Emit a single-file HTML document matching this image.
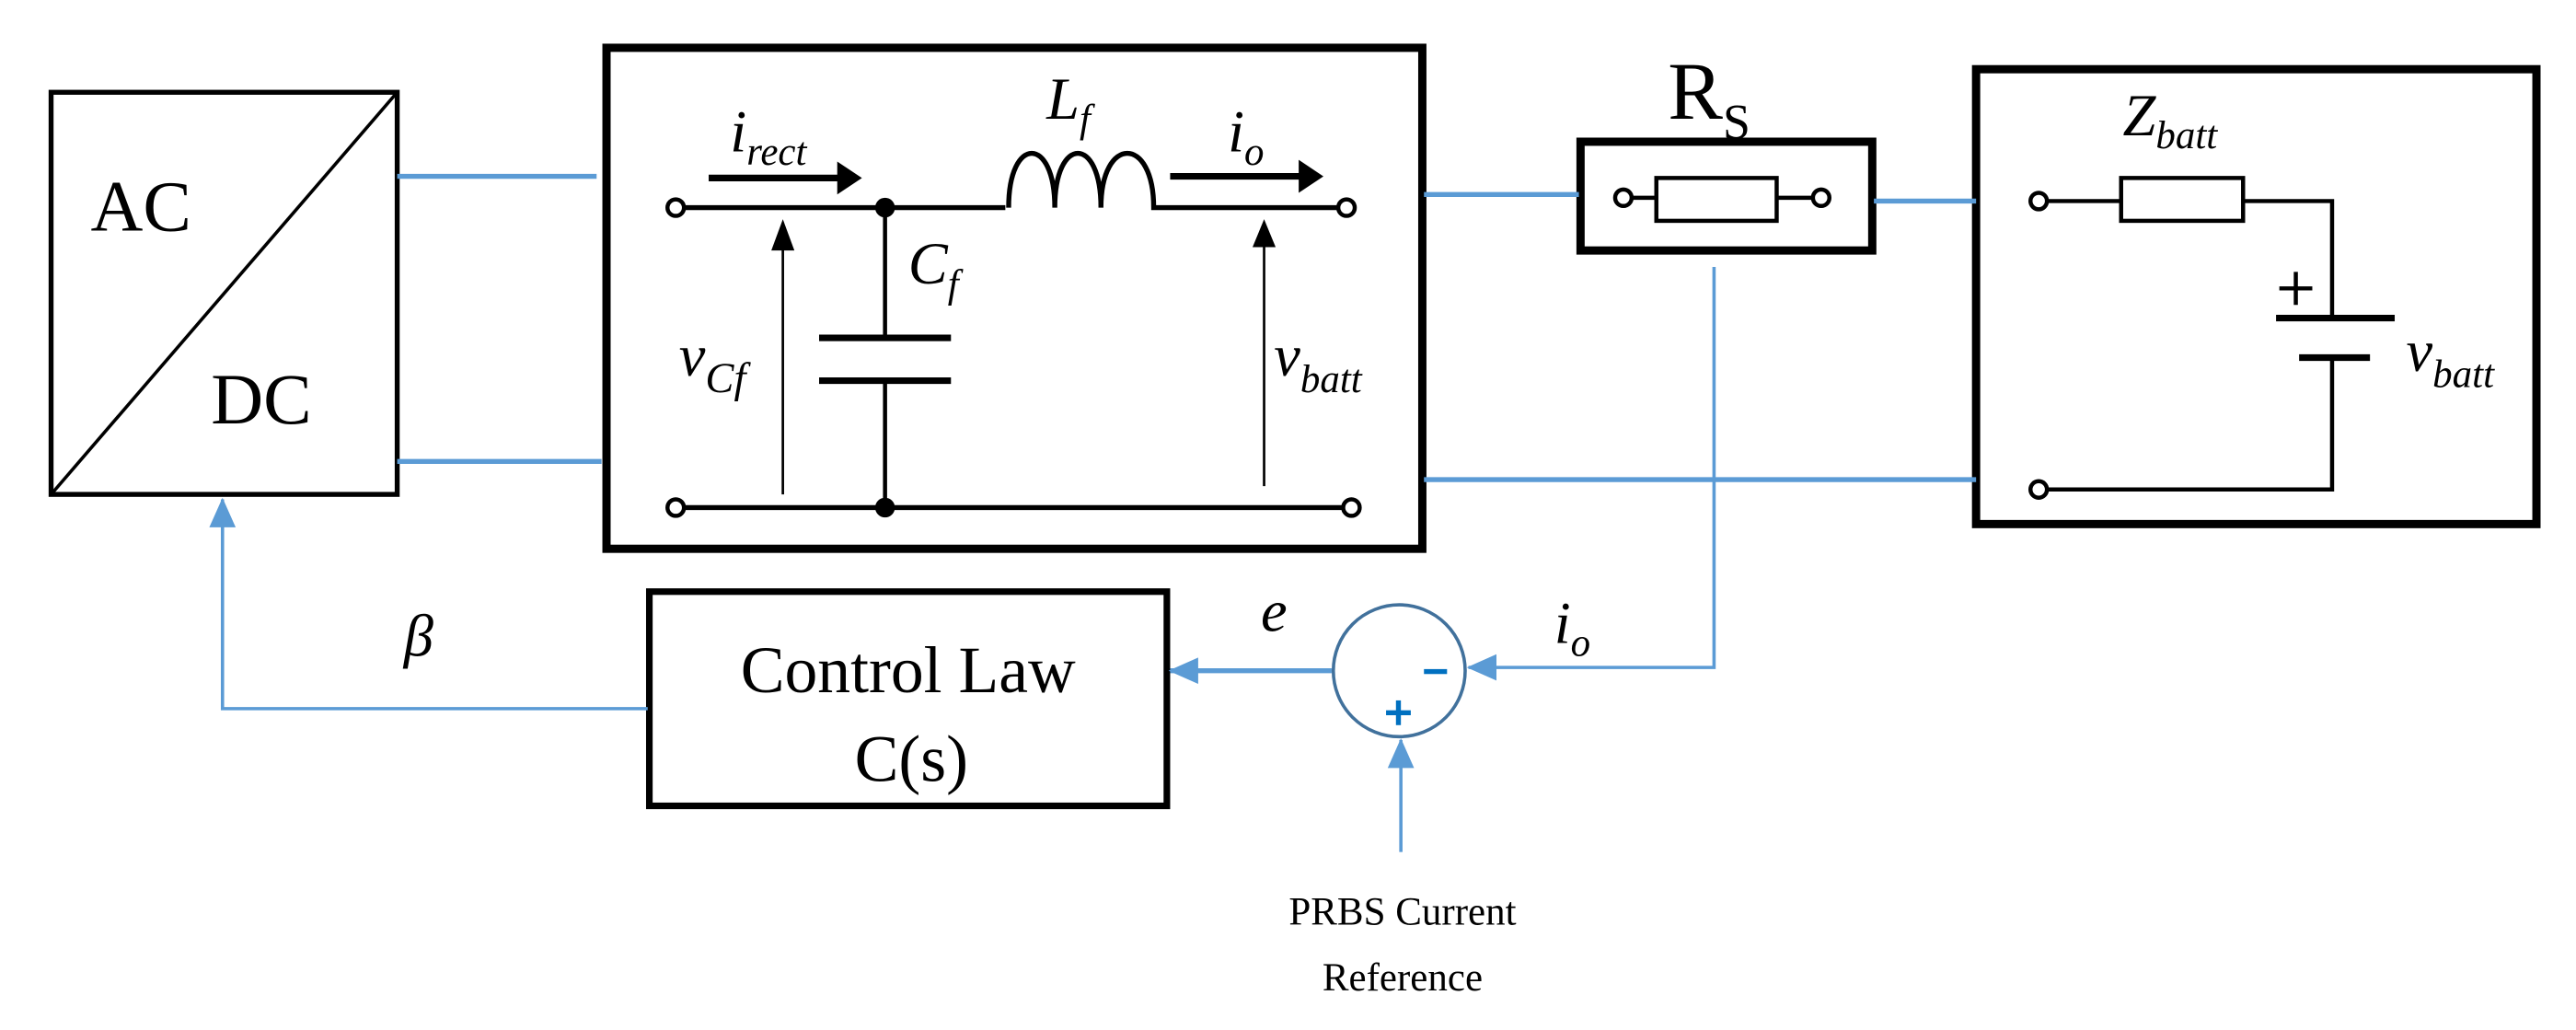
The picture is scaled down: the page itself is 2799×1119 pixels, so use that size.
<!DOCTYPE html>
<html><head><meta charset="utf-8"><style>html,body{margin:0;padding:0;background:#fff}svg{display:block}</style></head>
<body>
<svg width="2799" height="1119" viewBox="0 0 1563 625" preserveAspectRatio="none" xmlns="http://www.w3.org/2000/svg" font-family="'Liberation Serif', serif">
<defs>
<marker id="ba" markerWidth="18" markerHeight="18" refX="17" refY="9" orient="auto" markerUnits="userSpaceOnUse" viewBox="0 0 18 18"><path d="M0,1 L18,9 L0,17z" fill="#5b9bd5"/></marker>
</defs>
<g fill="none" stroke="#000">
<rect x="31" y="56" width="210" height="244" stroke-width="3"/>
<line x1="31" y1="300" x2="241" y2="56" stroke-width="2"/>
<rect x="368" y="29" width="495" height="304" stroke-width="5"/>
<path d="M415,126 H610" stroke-width="3"/>
<path d="M612,126 C612,82 640,82 640,126 C640,82 668,82 668,126 C668,82 700,82 700,126 H812" stroke-width="3"/>
<path d="M415,308 H815" stroke-width="3"/>
<circle cx="410" cy="126" r="5" stroke-width="2.5" fill="#fff"/>
<circle cx="817" cy="126" r="5" stroke-width="2.5" fill="#fff"/>
<circle cx="410" cy="308" r="5" stroke-width="2.5" fill="#fff"/>
<circle cx="820" cy="308" r="5" stroke-width="2.5" fill="#fff"/>
<path d="M537,126 V205 M537,231 V308" stroke-width="2.5"/>
<path d="M497,205 H577 M497,231 H577" stroke-width="4"/>
<path d="M475,300 V145 M767,295 V145" stroke-width="1.5"/>
<path d="M430,108 H510 M710,107 H790" stroke-width="4"/>
<rect x="959" y="86" width="177" height="66" stroke-width="5"/>
<path d="M990,120 H1005 M1078,120 H1100" stroke-width="2.5"/>
<rect x="1005" y="108" width="73" height="26" stroke-width="2.5"/>
<circle cx="985" cy="120" r="5" stroke-width="2.5" fill="#fff"/>
<circle cx="1105" cy="120" r="5" stroke-width="2.5" fill="#fff"/>
<rect x="1199" y="42" width="340" height="276" stroke-width="5"/>
<path d="M1242,122 H1287 M1361,122 H1415 V193 M1415,217 V297 H1242" stroke-width="2.5"/>
<rect x="1287" y="108" width="74" height="26" stroke-width="2.5"/>
<path d="M1381,193 H1453" stroke-width="4"/>
<path d="M1395,217 H1438" stroke-width="4"/>
<path d="M1393,165 V185 M1383,175 H1403" stroke-width="2.5"/>
<circle cx="1237" cy="122" r="5" stroke-width="2.5" fill="#fff"/>
<circle cx="1237" cy="297" r="5" stroke-width="2.5" fill="#fff"/>
<rect x="394" y="359" width="314" height="130" stroke-width="4"/>
</g>
<g fill="#000">
<circle cx="537" cy="126" r="6"/>
<circle cx="537" cy="308" r="6"/>
<path d="M508,98 L523,108 L508,118z"/>
<path d="M788,97 L803,107 L788,117z"/>
<path d="M468,152 L475,133 L482,152z"/>
<path d="M760,150 L767,133 L774,150z"/>
</g>
<g stroke="#5b9bd5" stroke-width="3" fill="none">
<path d="M241,107 H362 M241,280 H365 M864,118 H958 M1137,122 H1199 M864,291 H1199"/>
<path d="M1040,162 V405 H891" stroke-width="2" marker-end="url(#ba)"/>
<path d="M808,407 H710" marker-end="url(#ba)"/>
<path d="M393,430 H135 V303" stroke-width="2" marker-end="url(#ba)"/>
<path d="M850,517 V449" stroke-width="2" marker-end="url(#ba)"/>
</g>
<circle cx="849" cy="407" r="40" fill="none" stroke="#41719c" stroke-width="2"/>
<g fill="#0070c0">
<rect x="864" y="406" width="14" height="3"/>
<rect x="841" y="431" width="15" height="3"/><rect x="847" y="425" width="3" height="15"/>
</g>
<g font-size="44" fill="#000">
<text x="55" y="140">AC</text>
<text x="128" y="257">DC</text>
<text x="551" y="420" text-anchor="middle" font-size="40">Control Law</text>
<text x="553" y="474" text-anchor="middle" font-size="40">C(s)</text>
<text x="1012" y="72" font-size="50">R<tspan font-size="30" dy="12">S</tspan></text>
</g>
<g font-style="italic" fill="#000" font-size="36">
<text x="443" y="92">i<tspan font-size="24" dy="8">rect</tspan></text>
<text x="635" y="72">L<tspan font-size="24" dy="8">f</tspan></text>
<text x="745" y="92">i<tspan font-size="24" dy="8">o</tspan></text>
<text x="551" y="172">C<tspan font-size="24" dy="8">f</tspan></text>
<text x="412" y="228">v<tspan font-size="26" dy="10">Cf</tspan></text>
<text x="773" y="228">v<tspan font-size="24" dy="10">batt</tspan></text>
<text x="1288" y="82">Z<tspan font-size="24" dy="8">batt</tspan></text>
<text x="1460" y="225">v<tspan font-size="24" dy="10">batt</tspan></text>
<text x="943" y="390">i<tspan font-size="24" dy="8">o</tspan></text>
<text x="765" y="383">e</text>
<text x="245" y="398">β</text>
</g>
<g font-size="24" fill="#000" text-anchor="middle">
<text x="851" y="561">PRBS Current</text>
<text x="851" y="601">Reference</text>
</g>
</svg>
</body></html>
